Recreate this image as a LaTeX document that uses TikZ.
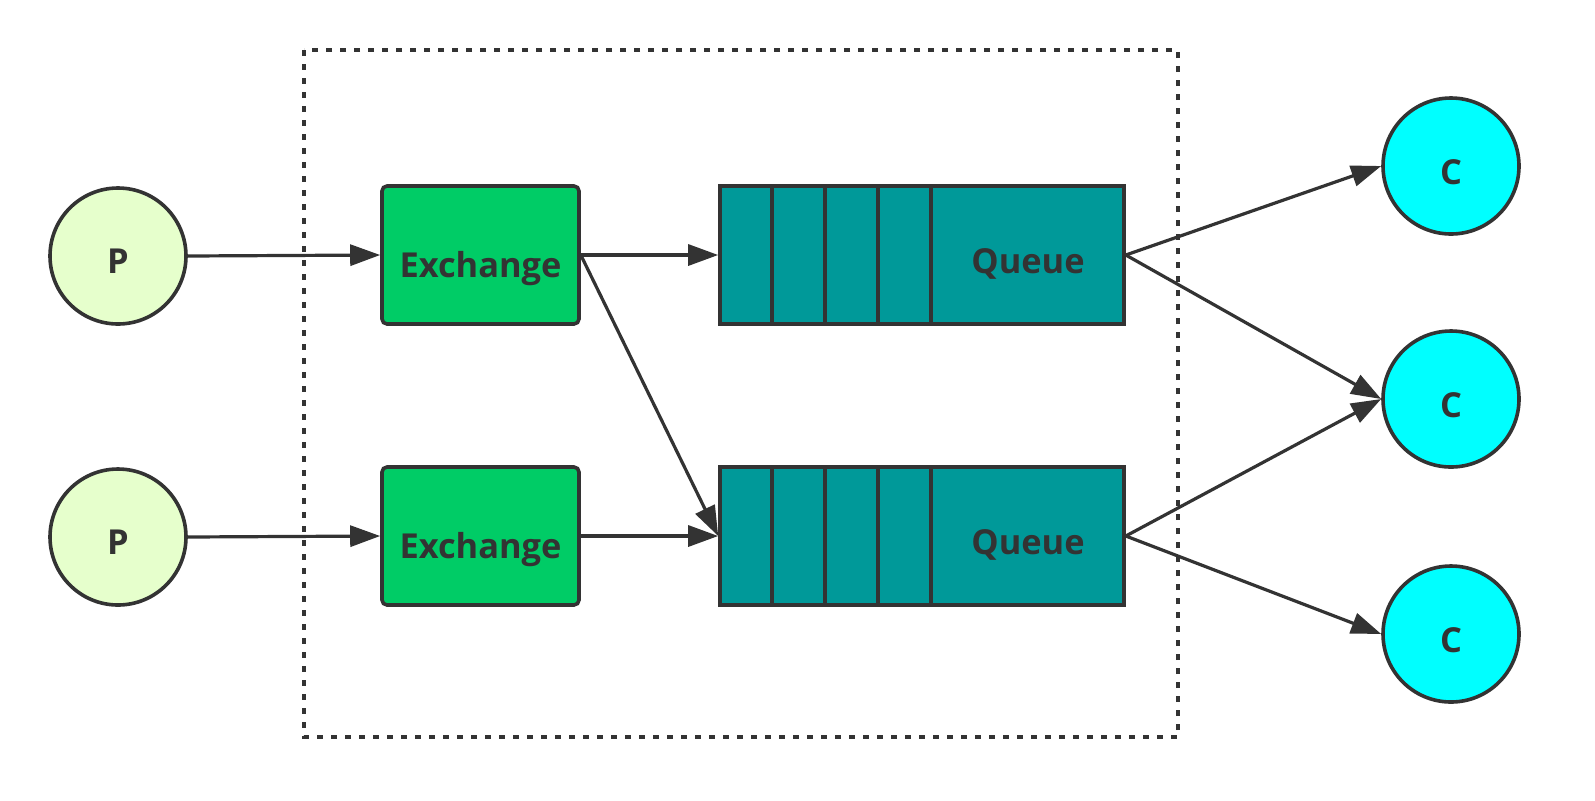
\documentclass[tikz,border=0pt]{standalone}
\usepackage{fontspec}
\setmainfont{Open Sans}
\usetikzlibrary{arrows.meta}
\definecolor{ink}{HTML}{333333}
\definecolor{pfill}{HTML}{E6FFCC}
\definecolor{exfill}{HTML}{00CC66}
\definecolor{qfill}{HTML}{009999}
\definecolor{cfill}{HTML}{00FFFF}
\tikzset{
  lbl/.style={font=\fontsize{17.2pt}{20pt}\selectfont\bfseries, text=ink},
  prod/.style={circle, draw=ink, line width=1.8pt, fill=pfill, minimum size=68pt, inner sep=0pt},
  cons/.style={circle, draw=ink, line width=1.8pt, fill=cfill, minimum size=68pt, inner sep=0pt},
  exbox/.style={rectangle, rounded corners=2.5pt, draw=ink, line width=1.8pt, fill=exfill, minimum width=98.5pt, minimum height=69pt, inner sep=0pt},
  qbox/.style={rectangle, draw=ink, line width=1.8pt, fill=qfill, minimum width=202pt, minimum height=69pt, inner sep=0pt},
  conn/.style={draw=ink, line width=1.6pt, -{Triangle[length=15pt,width=10.5pt]}},
  divider/.style={draw=ink, line width=1.8pt},
  border/.style={draw=ink, line width=1.6pt, dash pattern=on 3pt off 4pt}
}
\begin{document}
\begin{tikzpicture}[x=0.5pt,y=-0.5pt]
\useasboundingbox (0,0) rectangle (1595,800);
\draw[border] (304,50) rectangle (1178,737);

\node[prod] (p1) at (118,256) {};
\node[prod] (p2) at (118,537) {};
\node[lbl] (pl1) at (118,261) {P};
\node[lbl] (pl2) at (118,542) {P};

\node[exbox] (e1) at (480.5,255) {};
\node[exbox] (e2) at (480.5,536) {};
\node[lbl] (el1) at (480.5,269) {Exchange};
\node[lbl] (el2) at (480.5,550) {Exchange};

\node[qbox] (q1) at (922,255) {};
\node[qbox] (q2) at (922,536) {};
\foreach \q in {q1,q2}{
  \foreach \d in {54,107,160,213}{
    \draw[divider] ([xshift=\d*0.5pt]\q.north west) -- ([xshift=\d*0.5pt]\q.south west);
  }
}
\node[lbl] (ql1) at (1028,264) {Queue};
\node[lbl] (ql2) at (1028,545) {Queue};

\node[cons] (c1) at (1451,166) {};
\node[cons] (c2) at (1451,399) {};
\node[cons] (c3) at (1451,634) {};
\node[lbl] (cl1) at (1451,172) {C};
\node[lbl] (cl2) at (1451,405) {C};
\node[lbl] (cl3) at (1451,640) {C};

\draw[conn] (p1.east) -- (e1.west);
\draw[conn] (p2.east) -- (e2.west);
\draw[conn] (e1.east) -- (q1.west);
\draw[conn] (e1.east) -- (q2.west);
\draw[conn] (e2.east) -- (q2.west);
\draw[conn] (q1.east) -- (c1.west);
\draw[conn] (q1.east) -- (c2.west);
\draw[conn] (q2.east) -- (c2.west);
\draw[conn] (q2.east) -- (c3.west);
\end{tikzpicture}
\end{document}
